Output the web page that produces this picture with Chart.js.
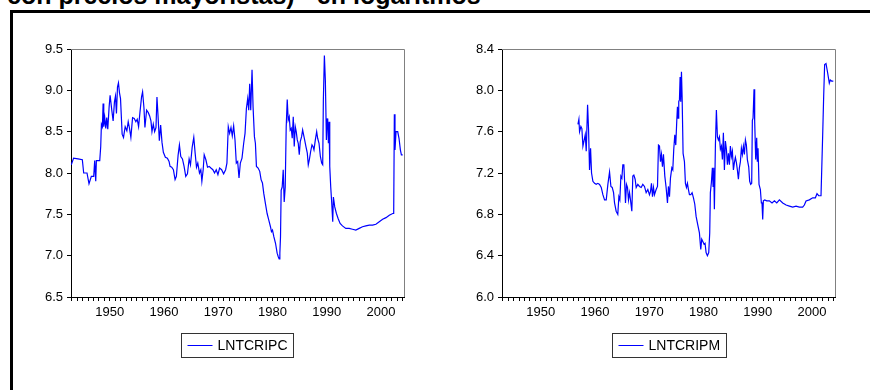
<!DOCTYPE html>
<html>
<head>
<meta charset="utf-8">
<script src="https://cdn.jsdelivr.net/npm/chart.js@4"></script>
<style>
  html, body { margin: 0; padding: 0; background: #fff; }
  body { width: 870px; height: 390px; position: relative; overflow: hidden; }
  #frame { position: absolute; left: 10px; top: 10px; width: 900px; height: 500px; border: 3px solid #000; box-sizing: border-box; }
  #title { position: absolute; left: 7px; top: -17px; font: bold 25px "Liberation Sans", Arial, sans-serif; line-height: 25px; white-space: nowrap; color: #000; }
  canvas { position: absolute; top: 0; }
</style>
</head>
<body>
<div id="frame"></div>
<div id="title">con precios mayoristas) - en logaritmos</div>
<canvas id="chartC" width="435" height="390" style="left:0px"></canvas>
<canvas id="chartM" width="435" height="390" style="left:431px"></canvas>
<script>
"use strict";

// LNTCRIPC (left panel)
var yearsC = [1942.9, 1943.33, 1944.14, 1944.94, 1945.19, 1945.80, 1946.17, 1946.60, 1947.04, 1947.22, 1947.41, 1947.53, 1948.15, 1948.33, 1948.46, 1948.64, 1948.77, 1948.89, 1949.07, 1949.26, 1949.44, 1949.63, 1949.88, 1950.06, 1950.37, 1950.62, 1950.86, 1951.05, 1951.23, 1951.42, 1951.60, 1951.79, 1951.98, 1952.28, 1952.53, 1952.84, 1953.15, 1953.40, 1953.64, 1953.89, 1954.20, 1954.51, 1954.81, 1955.06, 1955.31, 1955.56, 1955.86, 1956.05, 1956.30, 1956.48, 1956.79, 1957.10, 1957.35, 1957.59, 1957.78, 1958.02, 1958.27, 1958.52, 1958.70, 1958.89, 1959.14, 1959.38, 1959.63, 1959.88, 1960.25, 1960.62, 1960.93, 1961.11, 1961.42, 1961.73, 1962.04, 1962.28, 1962.59, 1962.84, 1963.09, 1963.40, 1963.70, 1964.01, 1964.32, 1964.63, 1964.88, 1965.19, 1965.49, 1965.74, 1965.99, 1966.23, 1966.54, 1966.79, 1966.98, 1967.22, 1967.41, 1967.72, 1968.02, 1968.33, 1968.64, 1969.01, 1969.32, 1969.63, 1969.94, 1970.25, 1970.62, 1970.99, 1971.36, 1971.60, 1971.85, 1972.10, 1972.35, 1972.59, 1972.84, 1973.09, 1973.33, 1973.58, 1973.83, 1974.07, 1974.38, 1974.69, 1974.94, 1975.19, 1975.43, 1975.62, 1975.80, 1975.99, 1976.23, 1976.42, 1976.67, 1976.85, 1977.04, 1977.35, 1977.65, 1977.90, 1978.15, 1978.40, 1978.70, 1979.01, 1979.32, 1979.63, 1979.81, 1980.00, 1980.25, 1980.56, 1980.86, 1981.05, 1981.23, 1981.36, 1981.48, 1981.60, 1981.79, 1981.98, 1982.16, 1982.35, 1982.53, 1982.72, 1982.90, 1983.09, 1983.27, 1983.46, 1983.64, 1983.83, 1984.01, 1984.20, 1984.38, 1984.57, 1984.75, 1984.94, 1985.12, 1985.37, 1985.56, 1985.74, 1985.93, 1986.17, 1986.42, 1986.60, 1986.79, 1987.04, 1987.28, 1987.47, 1987.65, 1987.90, 1988.15, 1988.33, 1988.58, 1988.83, 1989.07, 1989.26, 1989.38, 1989.57, 1989.75, 1989.94, 1990.06, 1990.19, 1990.31, 1990.43, 1990.56, 1990.74, 1990.93, 1991.11, 1991.23, 1991.48, 1991.79, 1992.10, 1992.47, 1992.90, 1993.52, 1994.14, 1994.75, 1995.37, 1995.99, 1996.60, 1997.22, 1997.84, 1998.46, 1999.07, 1999.69, 2000.31, 2000.93, 2001.54, 2002.16, 2002.35, 2002.47, 2002.59, 2002.78, 2003.09, 2003.33, 2003.58, 2003.77, 2004.01];
var valuesC = [8.10, 8.18, 8.17, 8.16, 8.00, 8.00, 7.87, 7.96, 7.96, 8.15, 7.90, 8.15, 8.15, 8.32, 8.59, 8.56, 8.84, 8.56, 8.67, 8.54, 8.67, 8.53, 8.80, 8.94, 8.76, 8.63, 8.86, 8.93, 8.72, 9.04, 9.09, 8.97, 8.90, 8.47, 8.43, 8.56, 8.51, 8.62, 8.54, 8.43, 8.67, 8.66, 8.62, 8.65, 8.56, 8.73, 8.92, 8.98, 8.79, 8.55, 8.76, 8.73, 8.69, 8.63, 8.50, 8.59, 8.50, 8.55, 8.92, 8.70, 8.39, 8.58, 8.37, 8.25, 8.19, 8.18, 8.14, 8.08, 8.07, 8.04, 7.92, 7.96, 8.21, 8.34, 8.20, 8.17, 8.08, 7.96, 7.99, 8.17, 8.10, 8.31, 8.43, 8.24, 8.07, 8.12, 8.00, 8.04, 7.90, 8.04, 8.22, 8.16, 8.07, 8.08, 8.06, 8.04, 8.00, 8.04, 7.98, 8.06, 8.04, 7.99, 8.04, 8.12, 8.56, 8.48, 8.55, 8.45, 8.57, 8.40, 8.12, 8.14, 7.94, 8.12, 8.18, 8.36, 8.48, 8.78, 8.90, 8.76, 9.08, 8.76, 9.25, 8.80, 8.44, 8.36, 8.08, 8.06, 8.02, 7.92, 7.88, 7.75, 7.63, 7.51, 7.43, 7.35, 7.29, 7.31, 7.23, 7.15, 7.03, 6.99, 6.96, 7.03, 7.23, 7.79, 7.83, 8.04, 7.65, 7.83, 8.56, 8.89, 8.64, 8.68, 8.52, 8.54, 8.42, 8.68, 8.32, 8.56, 8.50, 8.40, 8.36, 8.22, 8.38, 8.44, 8.52, 8.46, 8.40, 8.32, 8.24, 8.10, 8.16, 8.26, 8.34, 8.32, 8.28, 8.40, 8.50, 8.42, 8.36, 8.20, 8.12, 8.10, 8.88, 9.42, 9.12, 8.40, 8.66, 8.60, 8.36, 8.62, 8.08, 7.83, 7.63, 7.41, 7.71, 7.59, 7.51, 7.45, 7.39, 7.36, 7.33, 7.33, 7.32, 7.31, 7.33, 7.35, 7.36, 7.37, 7.37, 7.38, 7.41, 7.44, 7.46, 7.49, 7.51, 7.51, 8.71, 8.28, 8.50, 8.50, 8.42, 8.28, 8.22, 8.22];

// LNTCRIPM (right panel)
var yearsM = [1956.85, 1957.03, 1957.15, 1957.40, 1957.58, 1957.77, 1958.01, 1958.20, 1958.38, 1958.63, 1958.81, 1958.99, 1959.18, 1959.36, 1959.61, 1959.92, 1960.22, 1960.53, 1960.84, 1961.15, 1961.45, 1961.76, 1962.07, 1962.37, 1962.68, 1962.93, 1963.17, 1963.42, 1963.60, 1963.90, 1964.20, 1964.40, 1964.58, 1964.77, 1964.95, 1965.13, 1965.32, 1965.50, 1965.62, 1965.80, 1965.99, 1966.17, 1966.36, 1966.54, 1966.79, 1966.97, 1967.16, 1967.40, 1967.59, 1967.89, 1968.20, 1968.51, 1968.81, 1969.12, 1969.43, 1969.74, 1970.04, 1970.23, 1970.41, 1970.60, 1970.78, 1970.96, 1971.27, 1971.52, 1971.70, 1971.89, 1972.07, 1972.25, 1972.44, 1972.62, 1972.87, 1973.11, 1973.36, 1973.54, 1973.73, 1973.91, 1974.16, 1974.34, 1974.52, 1974.71, 1974.89, 1975.08, 1975.20, 1975.32, 1975.44, 1975.57, 1975.69, 1975.81, 1975.94, 1976.06, 1976.24, 1976.49, 1976.67, 1976.86, 1977.04, 1977.23, 1977.41, 1977.66, 1977.90, 1978.15, 1978.39, 1978.64, 1978.94, 1979.25, 1979.50, 1979.68, 1979.86, 1980.11, 1980.29, 1980.48, 1980.72, 1980.97, 1981.15, 1981.27, 1981.46, 1981.64, 1981.77, 1981.89, 1982.01, 1982.20, 1982.38, 1982.57, 1982.75, 1982.94, 1983.12, 1983.31, 1983.49, 1983.67, 1983.86, 1984.04, 1984.23, 1984.41, 1984.60, 1984.78, 1984.96, 1985.15, 1985.33, 1985.52, 1985.70, 1985.88, 1986.07, 1986.25, 1986.44, 1986.62, 1986.81, 1986.99, 1987.17, 1987.36, 1987.54, 1987.73, 1987.91, 1988.09, 1988.34, 1988.52, 1988.71, 1988.89, 1989.01, 1989.14, 1989.32, 1989.44, 1989.63, 1989.81, 1989.93, 1990.06, 1990.24, 1990.49, 1990.67, 1990.79, 1990.92, 1991.04, 1991.29, 1991.66, 1992.15, 1992.64, 1993.08, 1993.51, 1994.00, 1994.61, 1995.23, 1995.84, 1996.45, 1997.07, 1997.68, 1998.29, 1998.60, 1998.91, 1999.52, 2000.14, 2000.63, 2000.93, 2001.24, 2001.67, 2001.97, 2002.16, 2002.34, 2002.59, 2002.89, 2003.20, 2003.38, 2003.63, 2003.94];
var valuesM = [7.67, 7.72, 7.60, 7.65, 7.63, 7.46, 7.52, 7.57, 7.41, 7.86, 7.62, 7.23, 7.44, 7.20, 7.12, 7.10, 7.09, 7.10, 7.09, 7.06, 6.99, 6.94, 6.94, 7.09, 7.21, 7.07, 7.06, 7.01, 6.91, 6.83, 6.80, 6.97, 6.94, 7.17, 7.15, 7.28, 7.28, 7.07, 6.91, 7.09, 7.06, 6.94, 7.01, 6.94, 6.83, 7.17, 7.18, 7.14, 7.06, 7.09, 7.07, 7.06, 7.09, 7.07, 7.01, 7.04, 6.99, 7.02, 7.10, 6.97, 7.06, 6.99, 7.04, 7.07, 7.47, 7.46, 7.31, 7.38, 7.26, 7.38, 7.17, 7.06, 6.91, 7.07, 6.97, 7.15, 7.25, 7.23, 7.43, 7.57, 7.47, 7.71, 7.84, 7.73, 7.89, 7.91, 8.13, 7.89, 8.18, 7.94, 7.39, 7.31, 7.10, 7.06, 7.10, 7.04, 6.99, 6.99, 7.01, 6.96, 6.90, 6.78, 6.70, 6.62, 6.46, 6.56, 6.54, 6.51, 6.52, 6.43, 6.40, 6.43, 6.62, 7.01, 7.11, 7.25, 7.07, 7.25, 6.85, 7.47, 7.81, 7.55, 7.52, 7.55, 7.43, 7.46, 7.33, 7.59, 7.23, 7.51, 7.43, 7.28, 7.39, 7.28, 7.46, 7.36, 7.41, 7.23, 7.30, 7.35, 7.30, 7.23, 7.14, 7.25, 7.31, 7.44, 7.38, 7.46, 7.38, 7.52, 7.47, 7.33, 7.26, 7.12, 7.09, 7.10, 7.71, 7.73, 8.01, 7.70, 7.33, 7.54, 7.31, 7.44, 7.09, 7.04, 6.91, 6.91, 6.75, 6.93, 6.94, 6.93, 6.93, 6.91, 6.93, 6.91, 6.94, 6.91, 6.89, 6.88, 6.87, 6.88, 6.87, 6.87, 6.89, 6.93, 6.94, 6.96, 6.96, 7.00, 6.98, 6.98, 7.55, 7.94, 8.25, 8.26, 8.17, 8.07, 8.10, 8.09, 8.09];

var xMin = 1942.85;
var xMax = 2004.25;
var lineColor = "#0000ff";
var tickFont = { family: "'Liberation Sans', Arial, sans-serif", size: 13 };

// gray top/right frame of the plot area
var plotFrame = {
	id: "plotFrame",
	afterDraw: function ( chart ) {
		var a = chart.chartArea, c = chart.ctx;
		c.save();
		c.strokeStyle = "#808080";
		c.lineWidth = 1;
		c.beginPath();
		c.moveTo( a.left, Math.round( a.top ) + 0.5 );
		c.lineTo( Math.round( a.right ) + 0.5, Math.round( a.top ) + 0.5 );
		c.lineTo( Math.round( a.right ) + 0.5, a.bottom );
		c.stroke();
		c.restore();
	}
};

// boxed legend under the plot
var boxLegend = {
	id: "boxLegend",
	afterDraw: function ( chart ) {
		var ds = chart.data.datasets[ 0 ], c = chart.ctx, a = chart.chartArea;
		c.save();
		c.font = "14px 'Liberation Sans', Arial, sans-serif";
		var tw = c.measureText( ds.label ).width;
		var w = 6 + 25 + 5 + tw + 6, h = 24;
		var x0 = Math.round( ( a.left + a.right ) / 2 - w / 2 ) + 0.5, y0 = 333.5;
		c.strokeStyle = "#333";
		c.lineWidth = 1;
		c.strokeRect( x0, y0, Math.round( w ), h );
		c.strokeStyle = ds.borderColor;
		c.beginPath();
		c.moveTo( x0 + 6, y0 + 12 );
		c.lineTo( x0 + 31, y0 + 12 );
		c.stroke();
		c.fillStyle = "#000";
		c.textBaseline = "middle";
		c.fillText( ds.label, x0 + 36, y0 + 12.5 );
		c.restore();
	}
};

function makeChart( id, label, years, values, yMin, yMax, yStep ) {
	return new Chart( document.getElementById( id ), {
		type: "line",
		data: {
			datasets: [ {
				label: label,
				data: years.map( function ( y, i ) { return { x: y, y: values[ i ] }; } ),
				borderColor: lineColor,
				borderWidth: 1.2,
				pointRadius: 0,
				tension: 0,
				fill: false
			} ]
		},
		options: {
			responsive: false,
			animation: false,
			devicePixelRatio: 1,
			layout: { padding: { left: 0, top: 49, right: 31, bottom: 62 } },
			plugins: { legend: { display: false }, tooltip: { enabled: false } },
			scales: {
				x: {
					type: "linear",
					min: xMin,
					max: xMax,
					afterFit: function ( s ) { s.height = 31; },
					border: { color: "#000", width: 1 },
					grid: { drawOnChartArea: false, tickLength: 4, color: "#000" },
					ticks: {
						stepSize: 1,
						autoSkip: false,
						includeBounds: false,
						maxRotation: 0,
						padding: 4,
						color: "#000",
						font: tickFont,
						callback: function ( v ) { return Math.round( v ) % 10 === 0 ? String( Math.round( v ) ) : ""; }
					}
				},
				y: {
					min: yMin,
					max: yMax,
					afterFit: function ( s ) { s.width = 71; },
					border: { color: "#000", width: 1 },
					grid: { drawOnChartArea: false, tickLength: 4, color: "#000" },
					ticks: {
						stepSize: yStep,
						padding: 4,
						color: "#000",
						font: tickFont,
						callback: function ( v ) { return Number( v ).toFixed( 1 ); }
					}
				}
			}
		},
		plugins: [ plotFrame, boxLegend ]
	} );
}

makeChart( "chartC", "LNTCRIPC", yearsC, valuesC, 6.5, 9.5, 0.5 );
makeChart( "chartM", "LNTCRIPM", yearsM, valuesM, 6.0, 8.4, 0.4 );
</script>
</body>
</html>
